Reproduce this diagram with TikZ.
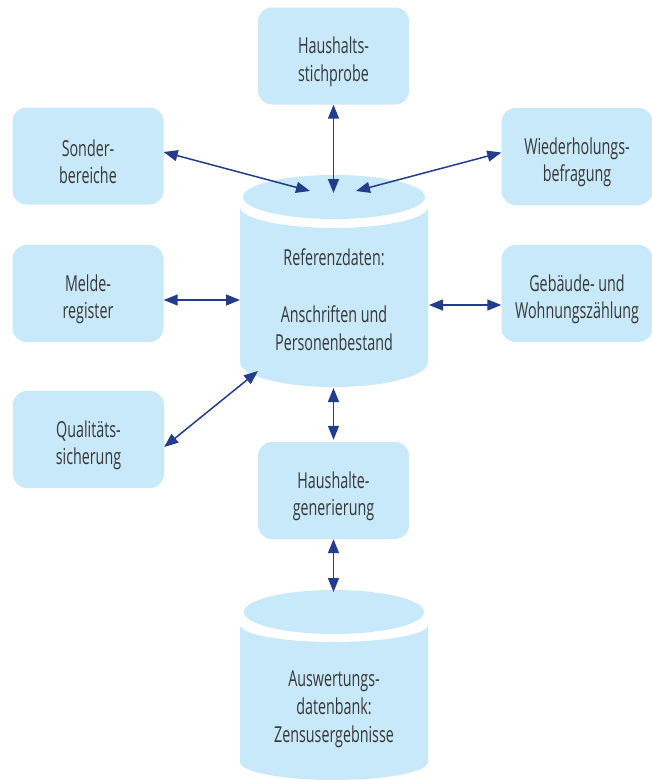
\documentclass[tikz,border=0pt]{standalone}
\usepackage{fontspec}
\setmainfont{Open Sans}[FakeStretch=0.65]
\usetikzlibrary{arrows.meta}
\definecolor{boxfill}{RGB}{200,233,249}
\definecolor{arrowblue}{RGB}{36,60,140}
\definecolor{txt}{RGB}{55,55,55}
\newcommand\mytopstrut{\rule{0pt}{28pt}}
\begin{document}
\begin{tikzpicture}[x=1pt,y=-1pt,
  box/.style={fill=boxfill, rounded corners=14pt, minimum width=151pt, minimum height=97pt,
    align=center, text=txt, font=\fontsize{22}{27.5}\selectfont, inner sep=0pt},
  cyltext/.style={align=center, text=txt, font=\fontsize{22}{28}\selectfont, inner sep=0pt},
  cylfill/.style={fill=boxfill},
  link/.style={arrowblue, line width=1.5pt,
    {Triangle[length=14pt,width=11pt]}-{Triangle[length=14pt,width=11pt]}}]
\useasboundingbox (0,0) rectangle (652,780);

% boxes
\node[box] (hs) at (333.5,56) {\mytopstrut Haushalts-\\stichprobe};
\node[box] (sb) at (88,156) {\mytopstrut Sonder-\\bereiche};
\node[box] (wb) at (577,156.5) {\mytopstrut Wiederholungs-\\befragung};
\node[box] (mr) at (88,293.5) {\mytopstrut Melde-\\register};
\node[box] (gw) at (577,293.5) {\mytopstrut Gebäude- und\\Wohnungszählung};
\node[box] (qs) at (88.5,439.5) {\mytopstrut Qualitäts-\\sicherung};
\node[box] (hg) at (333.5,490.5) {\mytopstrut Haushalte-\\generierung};

% cylinder 1: Referenzdaten
\fill[cylfill] (240,207) -- (240,362)
  arc[start angle=180, end angle=360, x radius=94pt, y radius=25pt]
  -- (428,207)
  arc[start angle=0, end angle=-180, x radius=94pt, y radius=21pt] -- cycle;
\fill[cylfill] (334,197) ellipse [x radius=91pt, y radius=22pt];
\node[cyltext] (ref) at (334,300) {Referenzdaten:\\[29pt]Anschriften und\\Personenbestand};

% cylinder 2: Auswertungsdatenbank (cut by the lower edge)
\fill[cylfill] (240,625) -- (240,762)
  arc[start angle=180, end angle=360, x radius=94pt, y radius=18pt]
  -- (428,625)
  arc[start angle=0, end angle=-180, x radius=94pt, y radius=17pt] -- cycle;
\fill[cylfill] (334,612) ellipse [x radius=90pt, y radius=22pt];
\node[cyltext] (aus) at (334,709) {Auswertungs-\\datenbank:\\Zensusergebnisse};

% connector end points on the cylinders
\coordinate (r1) at (333.5,193);
\coordinate (r2) at (310,191);
\coordinate (r3) at (356,191);
\coordinate (r4) at (240,300);
\coordinate (r5) at (429,305);
\coordinate (r6) at (258,371);
\coordinate (r7) at (333.5,388);
\coordinate (a1) at (333.5,592);

% connectors
\draw[link] (hs.south) -- (r1);
\draw[link] ([yshift=4pt]sb.east) -- (r2);
\draw[link] ([yshift=4pt]wb.west) -- (r3);
\draw[link] ([yshift=-6.5pt]mr.east) -- (r4);
\draw[link] (r5) -- ([yshift=-11.5pt]gw.west);
\draw[link] ([yshift=-7.5pt]qs.east) -- (r6);
\draw[link] (r7) -- ([yshift=2pt]hg.north);
\draw[link] (hg.south) -- (a1);
\end{tikzpicture}
\end{document}
